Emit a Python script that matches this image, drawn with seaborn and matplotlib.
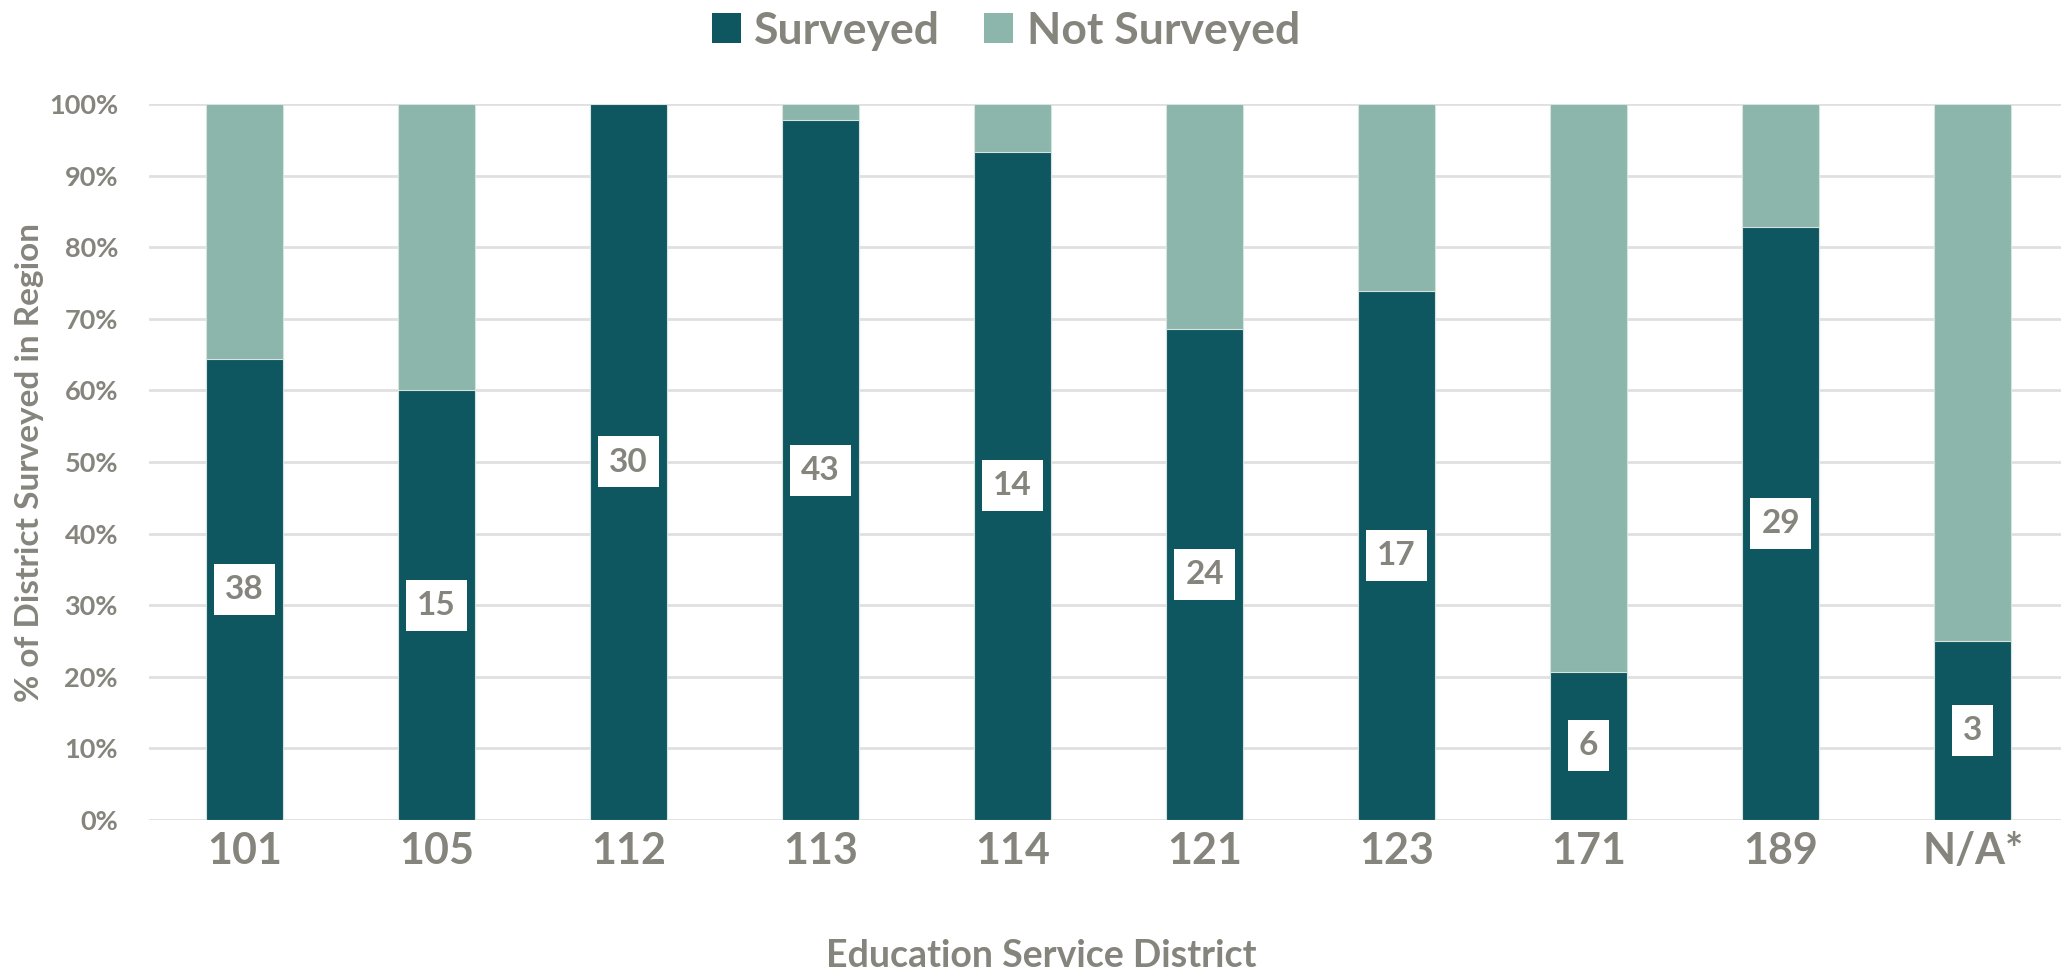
import matplotlib
matplotlib.use("Agg")
import matplotlib.pyplot as plt
import seaborn as sns
import pandas as pd
from matplotlib.patches import Patch

# Districts, schools surveyed, and total schools per district
districts = ["101", "105", "112", "113", "114", "121", "123", "171", "189", "N/A*"]
surveyed = [38, 15, 30, 43, 14, 24, 17, 6, 29, 3]
totals = [59, 25, 30, 44, 15, 35, 23, 29, 35, 12]

DARK = "#0F5760"
LIGHT = "#8CB5AB"
TEXT = "#85857D"
GRID = "#E0E0E0"

sns.set_theme(style="white")
plt.rcParams["font.family"] = ["Lato", "DejaVu Sans"]

df = pd.DataFrame({
    "district": districts,
    "surveyed": surveyed,
    "total": totals,
})
df["pct_surveyed"] = df["surveyed"] / df["total"] * 100
df["pct_total"] = 100.0

fig = plt.figure(figsize=(20.61, 9.72), dpi=100)
ax = fig.add_axes([148.5 / 2061, 152 / 972, 1 - 148.5 / 2061, 716 / 972])

# Full-height bar (not surveyed share shows above the surveyed segment)
sns.barplot(data=df, x="district", y="pct_total", color=LIGHT, width=0.40,
            saturation=1, edgecolor="#D6E3DF", linewidth=0.8, ax=ax, zorder=2)
sns.barplot(data=df, x="district", y="pct_surveyed", color=DARK, width=0.40,
            saturation=1, edgecolor="#D6E3DF", linewidth=0.8, ax=ax, zorder=3)

# Count labels centred in the surveyed segment
for i, row in df.iterrows():
    ax.text(i, row["pct_surveyed"] / 2, str(row["surveyed"]), ha="center", va="center",
            fontsize=24, fontweight="bold", color=TEXT, zorder=5,
            bbox=dict(boxstyle="square,pad=0.33", facecolor="white", edgecolor="none"))

ax.set_ylim(0, 100)
ax.set_xlim(-0.5, 9.46)
ax.set_yticks(range(0, 101, 10))
ax.set_yticklabels([f"{v}%" for v in range(0, 101, 10)])
ax.yaxis.grid(True, color=GRID, linewidth=2, zorder=0)
ax.set_axisbelow(True)
for s in ax.spines.values():
    s.set_visible(False)
ax.tick_params(axis="y", length=0, pad=22, labelsize=19.5, labelcolor=TEXT)
ax.tick_params(axis="x", length=0, pad=8, labelsize=31, labelcolor=TEXT)
for lab in ax.get_yticklabels() + ax.get_xticklabels():
    lab.set_fontweight("bold")

ax.set_xlabel("Education Service District", fontsize=27, fontweight="bold",
              color=TEXT)
ax.xaxis.set_label_coords(0.467, -0.166)
ax.set_ylabel("% of District Surveyed in Region", fontsize=24, fontweight="bold",
              color=TEXT)
ax.yaxis.set_label_coords(-104 / 1912.5, 0.5)

handles = [Patch(facecolor=DARK, edgecolor="none", label="Surveyed"),
           Patch(facecolor=LIGHT, edgecolor="none", label="Not Surveyed")]
leg = fig.legend(handles=handles, loc="upper center", bbox_to_anchor=(0.488, 1.03),
                 ncol=2, frameon=False, fontsize=32, handlelength=0.65, handleheight=0.65,
                 handletextpad=0.3, columnspacing=1.0)
for t in leg.get_texts():
    t.set_color(TEXT)
    t.set_fontweight("bold")

fig.savefig("out.png", dpi=100, facecolor="white")
